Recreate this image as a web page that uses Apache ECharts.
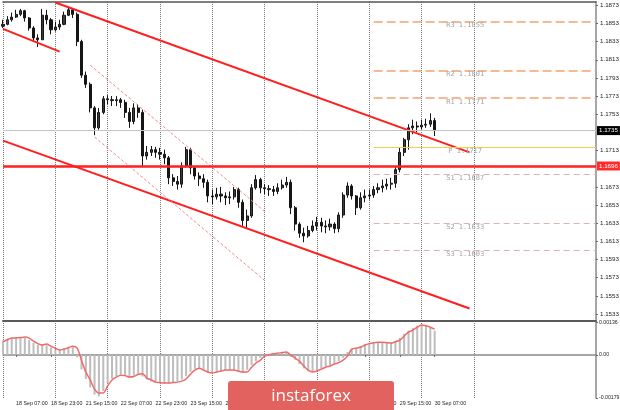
<!DOCTYPE html>
<html>
<head>
<meta charset="utf-8">
<script src="https://cdn.jsdelivr.net/npm/echarts@6/dist/echarts.min.js"></script>
<style>
html, body { margin: 0; padding: 0; background: #fff; }
#chart { width: 620px; height: 410px; }
</style>
</head>
<body>
<div id="chart"></div>
<script>
// EURUSD in 2-hour steps (18 Sep 01:00 .. 30 Sep 07:00)
const opens = [
  1.1850, 1.1852, 1.1857, 1.1860, 1.1863, 1.1867, 1.1859, 1.1848, 1.1837, 1.1835,
  1.1862, 1.1857, 1.1846, 1.1849, 1.1852, 1.1862, 1.1868, 1.1863, 1.1833, 1.1796,
  1.1786, 1.1760, 1.1738, 1.1755, 1.1770, 1.1769, 1.1768, 1.1769, 1.1766, 1.1755,
  1.1745, 1.1760, 1.1755, 1.1707, 1.1711, 1.1714, 1.1711, 1.1709, 1.1705, 1.1683,
  1.1679, 1.1676, 1.1696, 1.1714, 1.1694, 1.1685, 1.1682, 1.1678, 1.1663, 1.1662,
  1.1665, 1.1663, 1.1661, 1.1662, 1.1670, 1.1656, 1.1636, 1.1641, 1.1672, 1.1681,
  1.1672, 1.1671, 1.1670, 1.1668, 1.1672, 1.1675, 1.1678, 1.1650, 1.1632, 1.1622,
  1.1619, 1.1625, 1.1630, 1.1634, 1.1630, 1.1629, 1.1632, 1.1627, 1.1642, 1.1664,
  1.1674, 1.1663, 1.1650, 1.1661, 1.1663, 1.1664, 1.1670, 1.1672, 1.1674, 1.1676,
  1.1677, 1.1692, 1.1711, 1.1725, 1.1738, 1.1740, 1.1739, 1.1741, 1.1742, 1.1746
]
const closes = [
  1.1852, 1.1857, 1.1860, 1.1863, 1.1867, 1.1859, 1.1848, 1.1837, 1.1835, 1.1862,
  1.1857, 1.1846, 1.1849, 1.1852, 1.1862, 1.1868, 1.1863, 1.1833, 1.1796, 1.1786,
  1.1760, 1.1738, 1.1755, 1.1770, 1.1769, 1.1768, 1.1769, 1.1766, 1.1755, 1.1745,
  1.1760, 1.1755, 1.1707, 1.1711, 1.1714, 1.1711, 1.1709, 1.1705, 1.1683, 1.1679,
  1.1676, 1.1696, 1.1714, 1.1694, 1.1685, 1.1682, 1.1678, 1.1663, 1.1662, 1.1665,
  1.1663, 1.1661, 1.1662, 1.1670, 1.1656, 1.1636, 1.1641, 1.1672, 1.1681, 1.1672,
  1.1671, 1.1670, 1.1668, 1.1672, 1.1675, 1.1678, 1.1650, 1.1632, 1.1622, 1.1619,
  1.1625, 1.1630, 1.1634, 1.1630, 1.1629, 1.1632, 1.1627, 1.1642, 1.1664, 1.1674,
  1.1663, 1.1650, 1.1661, 1.1663, 1.1664, 1.1670, 1.1672, 1.1674, 1.1676, 1.1677,
  1.1692, 1.1711, 1.1725, 1.1738, 1.1740, 1.1739, 1.1741, 1.1742, 1.1746, 1.1735
]
const lows = [
  1.1848, 1.1851, 1.1855, 1.1859, 1.1861, 1.1855, 1.1845, 1.1833, 1.1827, 1.1835,
  1.1852, 1.1841, 1.1844, 1.1846, 1.1851, 1.1861, 1.1859, 1.1828, 1.1793, 1.1782,
  1.1755, 1.1730, 1.1736, 1.1753, 1.1764, 1.1762, 1.1762, 1.1760, 1.1749, 1.1738,
  1.1742, 1.1749, 1.1695, 1.1703, 1.1707, 1.1705, 1.1703, 1.1698, 1.1676, 1.1674,
  1.1670, 1.1672, 1.1694, 1.1687, 1.1681, 1.1674, 1.1672, 1.1656, 1.1654, 1.1659,
  1.1656, 1.1653, 1.1654, 1.1659, 1.1650, 1.1630, 1.1628, 1.1639, 1.1670, 1.1666,
  1.1665, 1.1663, 1.1663, 1.1665, 1.1670, 1.1672, 1.1643, 1.1625, 1.1617, 1.1612,
  1.1617, 1.1623, 1.1625, 1.1623, 1.1622, 1.1625, 1.1622, 1.1623, 1.1639, 1.1661,
  1.1659, 1.1642, 1.1648, 1.1656, 1.1659, 1.1661, 1.1666, 1.1667, 1.1670, 1.1670,
  1.1672, 1.1689, 1.1707, 1.1714, 1.1731, 1.1733, 1.1736, 1.1738, 1.1739, 1.1729
]
const highs = [
  1.1857, 1.1861, 1.1865, 1.1868, 1.1869, 1.1868, 1.1860, 1.1850, 1.1841, 1.1869,
  1.1868, 1.1859, 1.1855, 1.1857, 1.1866, 1.1871, 1.1870, 1.1865, 1.1835, 1.1800,
  1.1788, 1.1762, 1.1760, 1.1773, 1.1774, 1.1773, 1.1773, 1.1771, 1.1769, 1.1760,
  1.1765, 1.1764, 1.1758, 1.1718, 1.1718, 1.1717, 1.1716, 1.1714, 1.1707, 1.1687,
  1.1685, 1.1700, 1.1717, 1.1716, 1.1696, 1.1689, 1.1687, 1.1681, 1.1670, 1.1672,
  1.1673, 1.1667, 1.1668, 1.1673, 1.1672, 1.1659, 1.1648, 1.1676, 1.1686, 1.1683,
  1.1676, 1.1675, 1.1674, 1.1677, 1.1681, 1.1684, 1.1681, 1.1652, 1.1634, 1.1628,
  1.1630, 1.1636, 1.1640, 1.1639, 1.1636, 1.1638, 1.1634, 1.1645, 1.1667, 1.1678,
  1.1676, 1.1664, 1.1667, 1.1670, 1.1670, 1.1674, 1.1677, 1.1681, 1.1682, 1.1683,
  1.1696, 1.1716, 1.1727, 1.1742, 1.1747, 1.1745, 1.1747, 1.1748, 1.1754, 1.1749
]

// oscillator window (histogram + red signal line)
const histValues = [
  0.00060, 0.00068, 0.00072, 0.00073, 0.00074, 0.00070, 0.00062, 0.00050, 0.00042, 0.00044,
  0.00040, 0.00030, 0.00022, 0.00022, 0.00028, 0.00034, 0.00032, -0.00010, -0.00060, -0.00100,
  -0.00135, -0.00165, -0.00172, -0.00150, -0.00118, -0.00098, -0.00088, -0.00082, -0.00088, -0.00094,
  -0.00086, -0.00078, -0.00090, -0.00102, -0.00110, -0.00116, -0.00118, -0.00120, -0.00118, -0.00114,
  -0.00110, -0.00102, -0.00088, -0.00070, -0.00058, -0.00058, -0.00066, -0.00074, -0.00074, -0.00070,
  -0.00066, -0.00064, -0.00062, -0.00064, -0.00070, -0.00074, -0.00062, -0.00042, -0.00026, -0.00012,
  -0.00002, 0.00004, 0.00007, 0.00009, 0.00012, 0.00008, -0.00008, -0.00020, -0.00038, -0.00056,
  -0.00068, -0.00070, -0.00064, -0.00056, -0.00048, -0.00042, -0.00035, -0.00026, -0.00012, 0.00012,
  0.00026, 0.00030, 0.00038, 0.00045, 0.00050, 0.00053, 0.00054, 0.00052, 0.00050, 0.00052,
  0.00058, 0.00070, 0.00088, 0.00102, 0.00112, 0.00122, 0.00126, 0.00120, 0.00112, 0.00100
]
const signalValues = [
  0.00055, 0.00063, 0.00070, 0.00071, 0.00072, 0.00074, 0.00070, 0.00057, 0.00047, 0.00041,
  0.00045, 0.00036, 0.00028, 0.00020, 0.00024, 0.00030, 0.00036, 0.00028, -0.00022, -0.00071,
  -0.00104, -0.00142, -0.00158, -0.00158, -0.00129, -0.00104, -0.00092, -0.00084, -0.00086, -0.00092,
  -0.00090, -0.00080, -0.00078, -0.00096, -0.00104, -0.00113, -0.00115, -0.00117, -0.00117, -0.00115,
  -0.00113, -0.00109, -0.00100, -0.00080, -0.00063, -0.00055, -0.00063, -0.00071, -0.00075, -0.00071,
  -0.00067, -0.00063, -0.00063, -0.00063, -0.00067, -0.00071, -0.00071, -0.00051, -0.00034, -0.00022,
  -0.00005, 0.00001, 0.00005, 0.00007, 0.00010, 0.00012, -0.00001, -0.00013, -0.00026, -0.00046,
  -0.00063, -0.00071, -0.00067, -0.00059, -0.00051, -0.00046, -0.00038, -0.00032, -0.00022, -0.00005,
  0.00024, 0.00028, 0.00032, 0.00041, 0.00047, 0.00051, 0.00053, 0.00053, 0.00051, 0.00049,
  0.00055, 0.00061, 0.00078, 0.00095, 0.00103, 0.00115, 0.00124, 0.00121, 0.00115, 0.00107
]

// x axis: bar slots (right part left empty like the terminal's shift)
const slotCount = 137
const tickIndex = [3, 11, 19, 27, 35, 43, 51, 59, 67, 75, 83, 91, 99]
const tickText = [
  '18 Sep 07:00', '18 Sep 23:00', '21 Sep 15:00', '22 Sep 07:00', '22 Sep 23:00',
  '23 Sep 15:00', '24 Sep 07:00', '24 Sep 23:00', '25 Sep 15:00', '28 Sep 07:00',
  '28 Sep 23:00', '29 Sep 15:00', '30 Sep 07:00'
]
const priceTicks = [
  1.1873, 1.1853, 1.1833, 1.1813, 1.1793, 1.1773, 1.1753, 1.1713,
  1.1673, 1.1653, 1.1633, 1.1613, 1.1593, 1.1573, 1.1553, 1.1533
]
const oscTicks = [0.00136, 0, -0.00179]

// drawn objects: [slot, price]
const channelLines = [
  [[12, 1.1876], [107, 1.1711]],
  [[0, 1.1847], [13, 1.1822]],
  [[0, 1.1724], [107, 1.1539]]
]
const dashedChannel = [
  [[20, 1.1807], [60, 1.1646]],
  [[21, 1.1728], [60, 1.1570]]
]
const levelPrice = 1.1696
const bidPrice = 1.1735
const pivotNames = ['R3', 'R2', 'R1', 'P', 'S1', 'S2', 'S3']
const pivotValues = [1.1855, 1.1801, 1.1771, 1.1717, 1.1687, 1.1633, 1.1603]
const pivotFrom = 85
const pivotTo = 136
const pivotLabelAt = 106

const slots = Array.from({ length: slotCount }, (_, i) => String(i))
const candles = opens.map((o, i) => [o, closes[i], lows[i], highs[i]])

const gridLineAt = i => i % 12 === 0 && i <= 108
const isTick = i => tickIndex.includes(i)
const axisFont = "'Liberation Sans', Arial, sans-serif"

const redLine = { color: '#ff1e1e', width: 2, type: 'solid' }
const redDash = { color: '#f28a8a', width: 1, type: [3, 2] }
const noLabel = { show: false }

function segment(from, to, style, label) {
  return [
    { coord: from, lineStyle: style, label: label || noLabel },
    { coord: to, lineStyle: style, label: label || noLabel }
  ]
}

const markLines = []
channelLines.forEach(seg => markLines.push(segment(seg[0], seg[1], redLine)))
dashedChannel.forEach(seg => markLines.push(segment(seg[0], seg[1], redDash)))
pivotNames.forEach((name, k) => {
  let style
  if (name[0] === 'R') style = { color: '#f5a372', width: 1.5, type: [9, 4] }
  else if (name[0] === 'S') style = { color: '#dfb2b2', width: 1.2, type: [6, 4] }
  else style = { color: '#f0cf4f', width: 1, type: 'solid' }
  markLines.push(segment([pivotFrom, pivotValues[k]], [pivotTo, pivotValues[k]], style))
})
markLines.push(segment([0, bidPrice], [pivotTo, bidPrice],
  { color: '#c4c4c4', width: 1, type: 'solid' },
  {
    show: true, position: 'end', distance: 1, formatter: bidPrice.toFixed(4),
    backgroundColor: '#000', color: '#fff', fontSize: 6.2, fontFamily: axisFont, padding: [2, 2, 1, 2]
  }))
markLines.push(segment([0, levelPrice], [pivotTo, levelPrice],
  { color: '#ff1e1e', width: 2.5, type: 'solid' },
  {
    show: true, position: 'end', distance: 1, formatter: levelPrice.toFixed(4),
    backgroundColor: '#ff2a2a', color: '#fff', fontSize: 6.2, fontFamily: axisFont, padding: [2, 2, 1, 2]
  }))

const pivotLabels = pivotNames.map((name, k) => ({
  name: name + ' ' + pivotValues[k].toFixed(4),
  coord: [pivotLabelAt, pivotValues[k]]
}))

const chart = echarts.init(document.getElementById('chart'))

const option = {
  animation: false,
  backgroundColor: '#fff',
  grid: [
    { left: 3, right: 24, top: 2, height: 318, outerBoundsMode: 'none' },
    { left: 3, right: 24, top: 321, height: 77, outerBoundsMode: 'none' }
  ],
  xAxis: [
    {
      type: 'category', gridIndex: 0, data: slots, boundaryGap: false, position: 'top',
      axisLine: { show: true, lineStyle: { color: '#555', width: 1.5 } },
      axisTick: { show: false },
      axisLabel: { show: false },
      splitLine: { show: true, interval: gridLineAt, lineStyle: { color: '#777', type: 'dotted', width: 1 } }
    },
    {
      type: 'category', gridIndex: 1, data: slots, boundaryGap: false, position: 'bottom',
      axisLine: { show: true, lineStyle: { color: '#8a8a8a', width: 1.5 } },
      axisTick: { show: true, interval: isTick, length: 2, lineStyle: { color: '#666' } },
      axisLabel: {
        show: true, interval: isTick, align: 'left', margin: 3,
        fontSize: 5.3, fontFamily: axisFont, color: '#222',
        formatter: (v, i) => tickText[tickIndex.indexOf(i)] || ''
      },
      splitLine: { show: true, interval: gridLineAt, lineStyle: { color: '#777', type: 'dotted', width: 1 } }
    },
    {
      type: 'category', gridIndex: 1, data: slots, boundaryGap: false, position: 'top',
      axisLine: { show: true, lineStyle: { color: '#5a5a5a', width: 2 } },
      axisTick: { show: false },
      axisLabel: { show: false },
      splitLine: { show: false }
    }
  ],
  yAxis: [
    {
      type: 'value', gridIndex: 0, position: 'right', min: 1.15264, max: 1.18766,
      axisLine: { show: true, lineStyle: { color: '#8a8a8a', width: 1.5 } },
      axisTick: { show: true, customValues: priceTicks, length: 2, lineStyle: { color: '#666' } },
      axisLabel: {
        customValues: priceTicks, margin: 4, fontSize: 6.2, fontFamily: axisFont, color: '#222',
        formatter: v => v.toFixed(4)
      },
      splitLine: { show: false }
    },
    {
      type: 'value', gridIndex: 1, position: 'right', min: -0.00179, max: 0.00141,
      axisLine: { show: true, lineStyle: { color: '#8a8a8a', width: 1.5 } },
      axisTick: { show: true, customValues: oscTicks, length: 2, lineStyle: { color: '#666' } },
      axisLabel: {
        customValues: oscTicks, margin: 3, fontSize: 5.2, fontFamily: axisFont, color: '#222',
        formatter: v => (v === 0 ? '0.00' : v.toFixed(5))
      },
      splitLine: { show: false }
    }
  ],
  series: [
    {
      name: 'EURUSD', type: 'candlestick', xAxisIndex: 0, yAxisIndex: 0,
      data: candles, barWidth: 2.6,
      itemStyle: {
        color: '#3c3c3c', color0: '#151515',
        borderColor: '#151515', borderColor0: '#151515', borderWidth: 1
      },
      markLine: { symbol: ['none', 'none'], silent: true, animation: false, data: markLines },
      markPoint: {
        symbol: 'circle', symbolSize: 0, silent: true, animation: false,
        label: {
          show: true, position: 'bottom', distance: 0.5, formatter: '{b}',
          fontSize: 7, fontFamily: "'DejaVu Sans Mono', monospace", color: '#a4a4a4'
        },
        data: pivotLabels
      }
    },
    {
      name: 'hist', type: 'bar', xAxisIndex: 1, yAxisIndex: 1,
      data: histValues, barWidth: 2, itemStyle: { color: '#bdbdbd' }
    },
    {
      name: 'signal', type: 'line', xAxisIndex: 1, yAxisIndex: 1,
      data: signalValues, smooth: 0.3, symbol: 'none',
      lineStyle: { color: '#f06a6a', width: 1.5 }
    }
  ],
  graphic: [
    {
      type: 'rect', z: 100, left: 228, top: 381,
      shape: { width: 166, height: 40, r: 3 },
      style: { fill: '#e2625f' }
    },
    {
      type: 'text', z: 101, x: 311, y: 396,
      style: {
        text: 'instaforex', fill: '#fff', align: 'center', verticalAlign: 'middle',
        font: '17px "Open Sans", sans-serif'
      }
    }
  ]
}

chart.setOption(option)
</script>
</body>
</html>
